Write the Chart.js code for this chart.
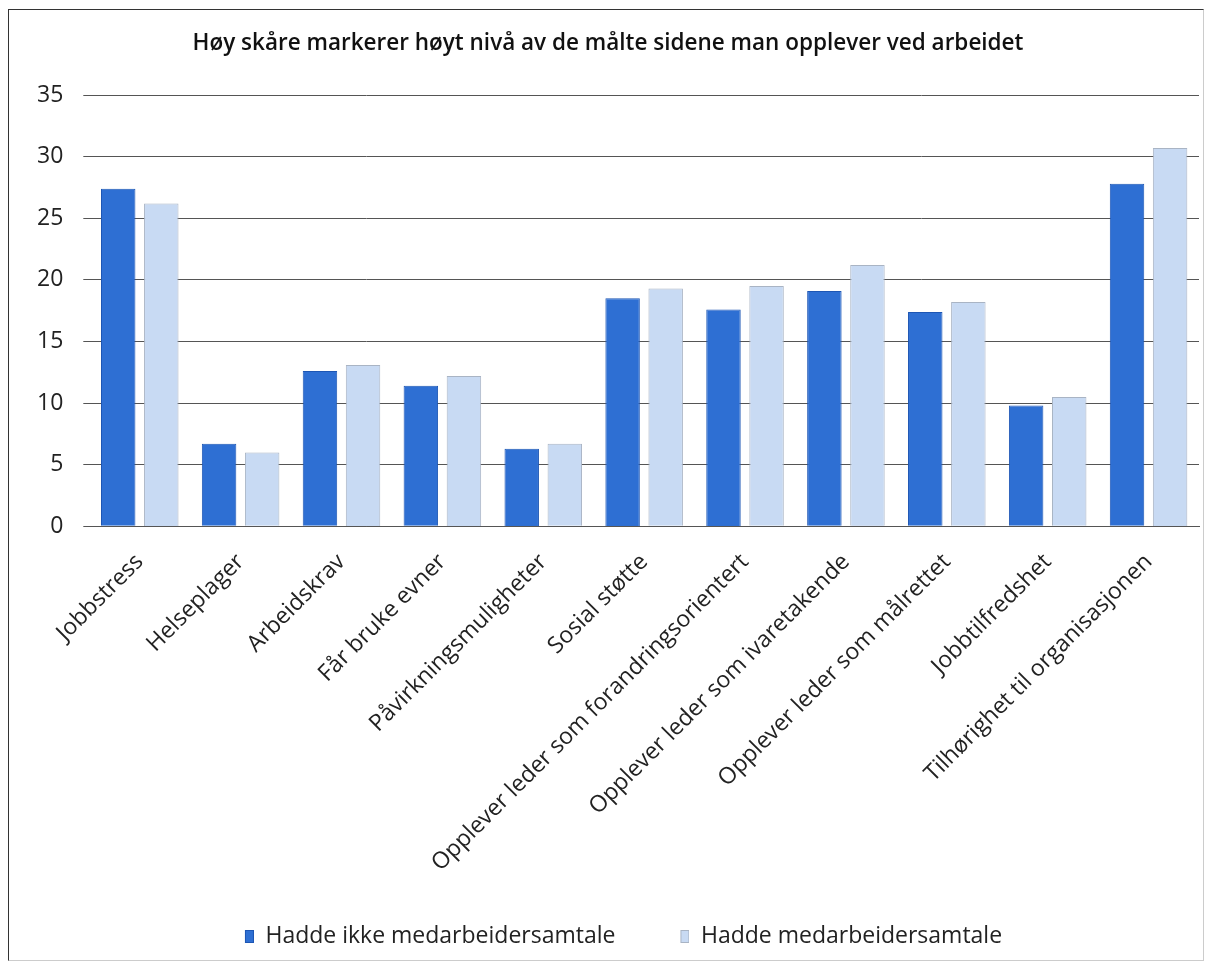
<!DOCTYPE html>
<html>
<head>
<meta charset="utf-8">
<script src="https://cdn.jsdelivr.net/npm/chart.js@4"></script>
<style>
  body { margin: 0; background: #fff; }
  #frame {
    position: absolute; left: 8px; top: 9px;
    width: 1194px; height: 950px;
    border: 1px solid #333; border-right-color: #ccc; border-bottom-color: #ccc;
  }
  canvas { display: block; }
</style>
</head>
<body>
<div id="frame"><canvas id="chart" width="1194" height="950"></canvas></div>
<script>
const categories = [
  'Jobbstress', 'Helseplager', 'Arbeidskrav', 'Får bruke evner', 'Påvirkningsmuligheter',
  'Sosial støtte', 'Opplever leder som forandringsorientert', 'Opplever leder som ivaretakende',
  'Opplever leder som målrettet', 'Jobbtilfredshet', 'Tilhørighet til organisasjonen'
]
const utenSamtale = [27.4, 6.7, 12.6, 11.4, 6.3, 18.5, 17.6, 19.1, 17.4, 9.8, 27.8]
const medSamtale = [26.2, 6.0, 13.1, 12.2, 6.7, 19.3, 19.5, 21.2, 18.2, 10.5, 30.7]
const yTicks = [0, 5, 10, 15, 20, 25, 30, 35]

const colors = ['#2e6fd3', '#c8daf3']
const borders = ['#1d56b4', '#a9b4c4']
const font = "'Open Sans', sans-serif"

// legend marker: small box at the right end of a wider blank image, so the items sit further apart
function legendMarker(fill, stroke) {
  const c = document.createElement('canvas')
  c.width = 40
  c.height = 13
  const ctx = c.getContext('2d')
  ctx.fillStyle = fill
  ctx.fillRect(31, 0, 9, 13)
  ctx.strokeStyle = stroke
  ctx.strokeRect(31.5, 0.5, 8, 12)
  return c
}
const markers = colors.map((c, i) => legendMarker(c, borders[i]))

new Chart(document.getElementById('chart'), {
  type: 'bar',
  data: {
    labels: categories,
    datasets: [{
      label: 'Hadde ikke medarbeidersamtale',
      data: utenSamtale,
      backgroundColor: colors[0],
      borderColor: borders[0],
      borderWidth: 1
    }, {
      label: 'Hadde medarbeidersamtale',
      data: medSamtale,
      backgroundColor: colors[1],
      borderColor: borders[1],
      borderWidth: 1
    }]
  },
  options: {
    responsive: false,
    animation: false,
    categoryPercentage: 0.854,
    barPercentage: 0.8,
    layout: { padding: { left: 8, right: 4, top: 16, bottom: 2 } },
    plugins: {
      title: {
        display: true,
        text: 'Høy skåre markerer høyt nivå av de målte sidene man opplever ved arbeidet',
        color: '#111',
        font: { family: font, size: 22.5, weight: '600' },
        padding: { top: 4, bottom: 38 }
      },
      legend: {
        position: 'bottom',
        labels: {
          color: '#222',
          usePointStyle: true,
          pointStyleWidth: 40,
          boxHeight: 13,
          padding: 34,
          font: { family: font, size: 23 },
          generateLabels: (chart) => {
            const items = Chart.defaults.plugins.legend.labels.generateLabels(chart)
            items.forEach((item, i) => { item.pointStyle = markers[i] })
            return items
          }
        }
      },
      tooltip: { enabled: false }
    },
    scales: {
      x: {
        grid: { display: false },
        border: { color: '#555' },
        ticks: {
          color: '#222',
          padding: 14,
          minRotation: 45,
          maxRotation: 45,
          font: { family: font, size: 23 }
        }
      },
      y: {
        min: 0,
        max: 35,
        afterBuildTicks: (axis) => { axis.ticks = yTicks.map(v => ({ value: v })) },
        grid: { color: '#555', tickLength: 6 },
        border: { display: false },
        ticks: {
          color: '#222',
          padding: 20,
          font: { family: font, size: 23 }
        }
      }
    }
  }
})
</script>
</body>
</html>
